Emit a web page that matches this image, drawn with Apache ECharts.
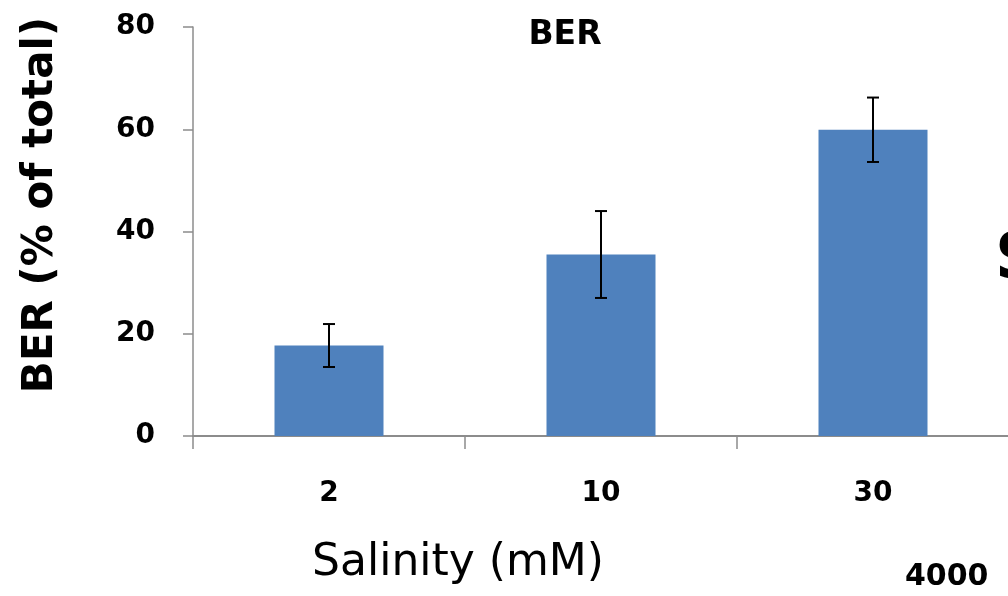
<!DOCTYPE html>
<html>
<head>
<meta charset="utf-8">
<script src="https://cdn.jsdelivr.net/npm/echarts@6/dist/echarts.min.js"></script>
<style>
  html, body { margin: 0; padding: 0; background: #fff; }
  #chart { width: 1008px; height: 596px; }
</style>
</head>
<body>
<div id="chart"></div>
<script>
// Salinity levels (mM) and BER share of total, with error margins
const categories = ['2', '10', '30'];
const berValues = [17.7, 35.5, 59.9];
const berErrors = [4.2, 8.5, 6.3];
const yTicks = { min: 0, max: 80, interval: 20 };

const FONT = '"DejaVu Sans", "Liberation Sans", sans-serif';
const chart = echarts.init(document.getElementById('chart'), null, { renderer: 'canvas' });

const errorData = categories.map((c, i) => [i, berValues[i] - berErrors[i], berValues[i] + berErrors[i]]);

chart.setOption({
  animation: false,
  backgroundColor: '#ffffff',
  title: {
    text: 'BER',
    left: 560,
    top: 14,
    textAlign: 'center',
    textStyle: { fontFamily: FONT, fontSize: 33, fontWeight: 'bold', color: '#000' }
  },
  grid: { left: 193, top: 27, width: 816, height: 409, containLabel: false, outerBoundsMode: 'none' },
  xAxis: {
    type: 'category',
    data: categories,
    boundaryGap: true,
    axisLine: { lineStyle: { color: '#8c8c8c', width: 2 } },
    axisTick: { show: true, length: 13, lineStyle: { color: '#8c8c8c', width: 1.5 } },
    axisLabel: { margin: 44, fontFamily: FONT, fontSize: 28, fontWeight: 'bold', color: '#000' }
  },
  yAxis: {
    type: 'value',
    min: yTicks.min,
    max: yTicks.max,
    interval: yTicks.interval,
    splitLine: { show: false },
    axisLine: { show: true, lineStyle: { color: '#8c8c8c', width: 1.5 } },
    axisTick: { show: true, length: 10, lineStyle: { color: '#8c8c8c', width: 1.5 } },
    axisLabel: { margin: 38, fontFamily: FONT, fontSize: 28, fontWeight: 'bold', color: '#000' }
  },
  series: [
    {
      type: 'bar',
      data: berValues,
      barWidth: 109,
      itemStyle: { color: '#4f81bd' }
    },
    {
      type: 'custom',
      data: errorData,
      z: 10,
      renderItem: function (params, api) {
        const x = api.value(0);
        const lo = api.coord([x, api.value(1)]);
        const hi = api.coord([x, api.value(2)]);
        const cap = 6;
        const style = { stroke: '#000', lineWidth: 2 };
        return {
          type: 'group',
          children: [
            { type: 'line', shape: { x1: hi[0], y1: hi[1], x2: lo[0], y2: lo[1] }, style: style },
            { type: 'line', shape: { x1: hi[0] - cap, y1: hi[1], x2: hi[0] + cap, y2: hi[1] }, style: style },
            { type: 'line', shape: { x1: lo[0] - cap, y1: lo[1], x2: lo[0] + cap, y2: lo[1] }, style: style }
          ]
        };
      }
    }
  ],
  graphic: [
    {
      // y-axis title
      type: 'text',
      x: 41,
      y: 205,
      rotation: Math.PI / 2,
      style: {
        text: 'BER (% of total)', align: 'center', verticalAlign: 'middle',
        fontFamily: FONT, fontSize: 42, fontWeight: 'bold', fill: '#000'
      }
    },
    {
      // x-axis title
      type: 'text',
      x: 458,
      y: 564,
      style: {
        text: 'Salinity (mM)', align: 'center', verticalAlign: 'middle',
        fontFamily: FONT, fontSize: 44, fill: '#000'
      }
    },
    {
      type: 'text',
      x: 905,
      y: 577,
      style: { text: '4000', verticalAlign: 'middle', fontFamily: FONT, fontSize: 30, fontWeight: 'bold', fill: '#000' }
    },
    {
      type: 'text',
      x: 995,
      y: 261,
      style: { text: 'S', verticalAlign: 'middle', fontFamily: FONT, fontSize: 64, fontWeight: 'bold', fill: '#000' }
    }
  ]
});
</script>
</body>
</html>
